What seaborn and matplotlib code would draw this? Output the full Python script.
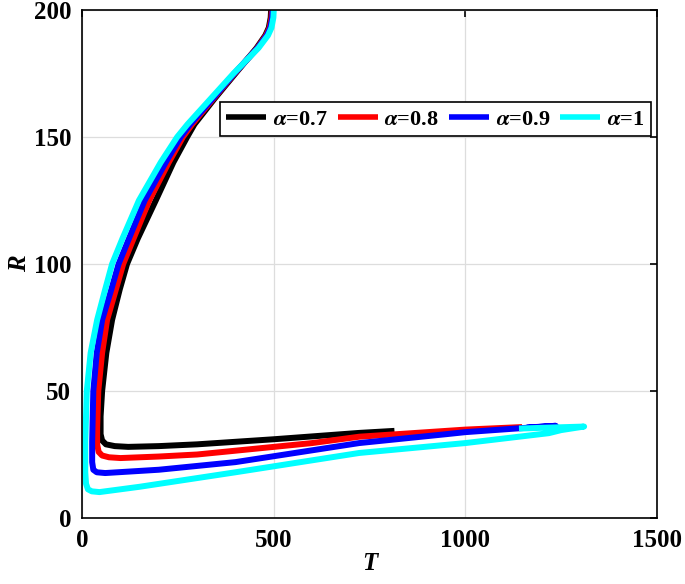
import numpy as np
import pandas as pd
import seaborn as sns
import matplotlib.pyplot as plt

# trajectories, from the start point (T~500, R=200) to the end
t_07 = [493, 492, 487, 478, 455, 400, 345, 293, 274, 238, 192, 145, 117, 98, 78, 63, 52, 48, 48, 52, 62, 85, 120, 200, 300, 500, 723, 815]
r_07 = [200, 197, 193, 190, 185, 175, 165, 155, 150, 140, 125, 110, 100, 90, 78, 65, 50, 40, 33, 30.5, 29, 28.3, 28, 28.3, 29, 31, 33.5, 34.3]

t_08 = [495, 494, 489, 480, 457, 398, 342, 287, 263, 226, 175, 134, 107, 88, 65, 52, 42, 39, 39, 43, 52, 70, 100, 200, 300, 600, 723, 1000, 1148]
r_08 = [200, 197, 193, 190, 185, 175, 165, 155, 150, 140, 125, 110, 100, 90, 78, 65, 50, 35, 29, 26, 24.6, 23.9, 23.6, 24.2, 25, 29.5, 32, 34.8, 35.8]

t_09 = [497, 496, 491, 482, 458, 397, 340, 282, 257, 218, 163, 122, 95, 76, 52, 38, 29, 26, 26, 29, 38, 60, 200, 400, 723, 950, 1000, 1130, 1236, 1160]
r_09 = [200, 197, 193, 190, 185, 175, 165, 155, 150, 140, 125, 110, 100, 90, 78, 65, 50, 30, 22, 19, 18, 17.7, 19, 22, 29.5, 33, 33.8, 35.2, 36.3, 35.6]

t_10 = [500, 499, 494, 485, 460, 395, 335, 275, 248, 205, 148, 105, 78, 60, 39, 22, 12, 8, 8, 10, 15, 25, 45, 150, 400, 723, 1000, 1218, 1250, 1310, 1200, 1140]
r_10 = [200, 197, 193, 190, 185, 175, 165, 155, 150, 140, 125, 110, 100, 90, 78, 65, 50, 30, 18, 13.5, 11.3, 10.5, 10.2, 12.3, 18, 25.6, 29.5, 33.4, 34.6, 36, 35.5, 35.2]

labels = [r'$\alpha$=0.7', r'$\alpha$=0.8', r'$\alpha$=0.9', r'$\alpha$=1']
colors = ['black', 'red', 'blue', 'cyan']

frames = []
for lab, t, r in zip(labels, [t_07, t_08, t_09, t_10], [r_07, r_08, r_09, r_10]):
    frames.append(pd.DataFrame({'T': t, 'R': r, 'alpha': lab, 'step': np.arange(len(t))}))
df = pd.concat(frames, ignore_index=True)

sns.set_theme(style="whitegrid")
plt.rcParams['font.family'] = ['Liberation Serif', 'DejaVu Serif']
plt.rcParams['font.weight'] = 'bold'
plt.rcParams['mathtext.fontset'] = 'stix'
plt.rcParams['text.color'] = 'black'
plt.rcParams['axes.labelcolor'] = 'black'

fig, ax = plt.subplots(figsize=(6.85, 5.84), dpi=100)
fig.subplots_adjust(left=0.12, right=0.959, bottom=0.113, top=0.983)

sns.lineplot(data=df, x='T', y='R', hue='alpha', units='alpha', estimator=None,
             sort=False, palette=colors, linewidth=4.3, ax=ax)
for line in ax.lines:
    line.set_solid_joinstyle('round')
    line.set_solid_capstyle('butt')

ax.set_xlim(0, 1500)
ax.set_ylim(0, 200)
ax.set_xticks([0, 500, 1000, 1500])
ax.set_yticks([0, 50, 100, 150, 200])
ax.grid(True, color='#dddddd', linewidth=0.9)
ax.set_facecolor('white')
for s in ax.spines.values():
    s.set_color('black')
    s.set_linewidth(1.2)
ax.tick_params(direction='in', length=5, width=1.2, top=True, right=True,
               labelsize=18, color='black', labelcolor='black', pad=8)
for lab in ax.get_xticklabels() + ax.get_yticklabels():
    lab.set_fontweight('bold')

ax.set_xlabel('T', fontsize=18, fontstyle='italic', fontweight='bold', labelpad=0)
ax.set_ylabel('R', fontsize=18, fontstyle='italic', fontweight='bold', labelpad=2)

leg = ax.legend(loc='upper right', bbox_to_anchor=(0.99, 0.818), ncol=4,
                handlelength=1.8, handletextpad=0.3, columnspacing=0.45,
                borderpad=0.3, borderaxespad=0, fancybox=False, framealpha=1,
                prop={'size': 16, 'weight': 'bold'})
leg.get_frame().set_edgecolor('black')
leg.get_frame().set_linewidth(1.2)
for line in leg.get_lines():
    line.set_linewidth(4)

fig.savefig('out.png', dpi=100)
